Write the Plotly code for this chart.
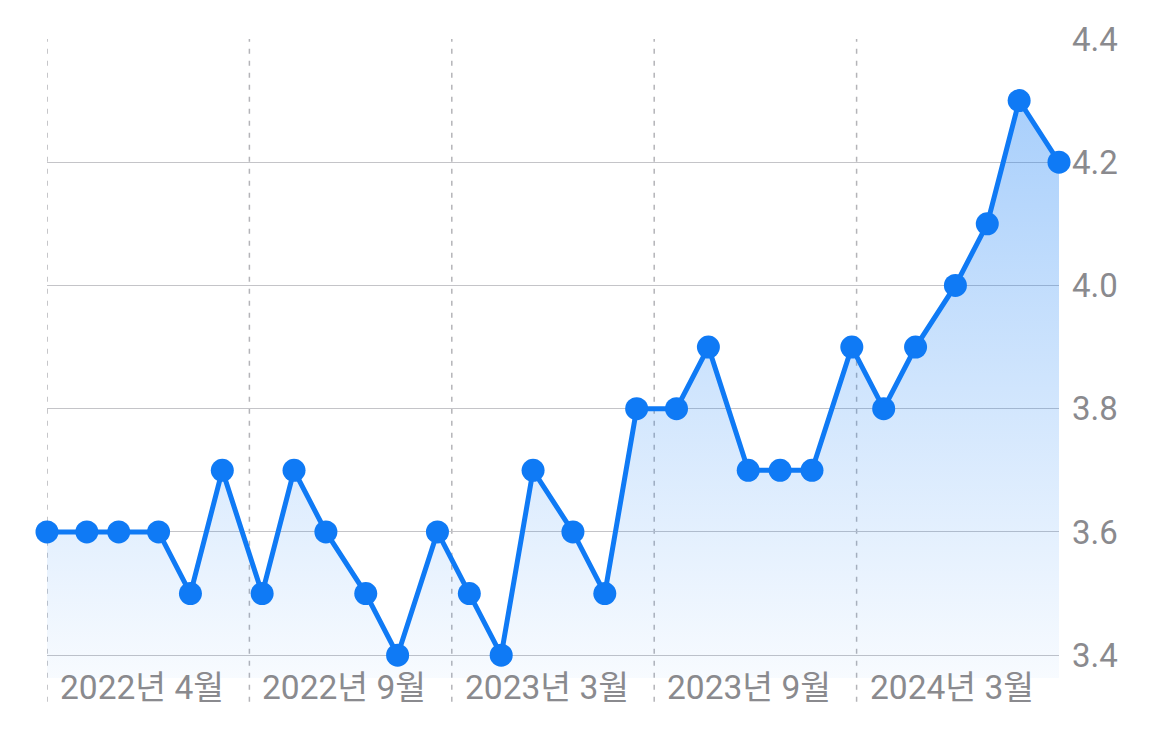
import pandas as pd
import plotly.graph_objects as go

# ---- data ----
release_dates = [
    "2022-04-01", "2022-05-06", "2022-06-03", "2022-07-08", "2022-08-05", "2022-09-02",
    "2022-10-07", "2022-11-04", "2022-12-02", "2023-01-06", "2023-02-03", "2023-03-10",
    "2023-04-07", "2023-05-05", "2023-06-02", "2023-07-07", "2023-08-04", "2023-09-01",
    "2023-10-06", "2023-11-03", "2023-12-08", "2024-01-05", "2024-02-02", "2024-03-08",
    "2024-04-05", "2024-05-03", "2024-06-07", "2024-07-05", "2024-08-02", "2024-09-06",
]
rate_values = [
    3.6, 3.6, 3.6, 3.6, 3.5, 3.7, 3.5, 3.7, 3.6, 3.5, 3.4, 3.6, 3.5, 3.4, 3.7,
    3.6, 3.5, 3.8, 3.8, 3.9, 3.7, 3.7, 3.7, 3.9, 3.8, 3.9, 4.0, 4.1, 4.3, 4.2,
]
x_tick_labels = ["2022년 4월", "2022년 9월", "2023년 3월", "2023년 9월", "2024년 3월"]
y_tick_values = [3.4, 3.6, 3.8, 4.0, 4.2, 4.4]

# ---- styles ----
BLUE = "#0F7AF5"
GRAY_TEXT = "#8A8A8E"
GRID = "#C4C4C8"
FONT = "Roboto, 'Noto Sans CJK KR', sans-serif"

dates = pd.to_datetime(release_dates)
start, end = dates[0], dates[-1]
step = (end - start) / len(x_tick_labels)
x_ticks = [start + step * k for k in range(len(x_tick_labels))]

fig = go.Figure()
fig.add_trace(go.Scatter(
    x=dates, y=rate_values,
    mode="lines+markers",
    line=dict(color=BLUE, width=5),
    marker=dict(color=BLUE, size=23),
    fill="tozeroy",
    fillgradient=dict(
        type="vertical",
        start=3.363, stop=4.3,
        colorscale=[[0, "rgba(15,122,245,0.03)"], [1, "rgba(15,122,245,0.36)"]],
    ),
    cliponaxis=False,
    hoverinfo="x+y",
))

shapes = []
annotations = []
for xt, lab in zip(x_ticks, x_tick_labels):
    shapes.append(dict(
        type="line", xref="x", yref="paper",
        x0=xt, x1=xt, y0=-0.037, y1=1,
        line=dict(color="#B4B4B8", width=1.5, dash="5px,7px"),
        layer="below",
    ))
    annotations.append(dict(
        x=xt, y=0, xref="x", yref="paper",
        text=lab, showarrow=False,
        xanchor="left", yanchor="middle",
        xshift=11, yshift=-9,
        font=dict(family=FONT, size=33.5, color=GRAY_TEXT),
    ))

fig.update_layout(
    width=1170, height=734,
    margin=dict(l=39, r=119, t=29, b=64),
    paper_bgcolor="white", plot_bgcolor="white",
    showlegend=False,
    shapes=shapes,
    annotations=annotations,
    font=dict(family=FONT, size=32, color=GRAY_TEXT),
)
fig.update_xaxes(
    type="date",
    range=[start, end],
    showgrid=False, zeroline=False,
    showticklabels=False, ticks="",
    showline=False,
)
fig.update_yaxes(
    side="right",
    range=[3.363, 4.4 + 1e-6],
    tickvals=y_tick_values,
    tickformat=".1f",
    showgrid=True, gridcolor=GRID, gridwidth=1.3,
    zeroline=False, showline=False, ticks="",
    ticklabelstandoff=12,
    tickfont=dict(family=FONT, size=33, color=GRAY_TEXT),
)

fig.write_html("out.html")
